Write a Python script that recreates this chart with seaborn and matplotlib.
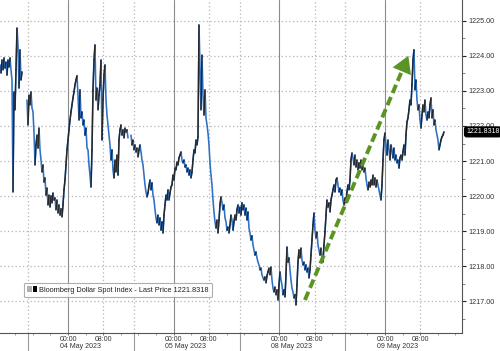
import numpy as np
import pandas as pd
import matplotlib
matplotlib.use("Agg")
import matplotlib.pyplot as plt
from matplotlib.patches import Rectangle
from matplotlib.legend_handler import HandlerTuple
import seaborn as sns

nan = float("nan")

# Bloomberg Dollar Spot Index, intraday bars (~13.6 minutes each).
# Horizontal axis = business-hours timeline: 0 h = 03 May 2023 00:00 (weekend collapsed)
FIRST_BAR_HOUR = 8.556
BAR_HOURS = 0.2271

may03 = [1223.74, 1223.51, 1223.88, 1223.60, 1223.94, 1223.65, 1223.82, 1223.45, 1223.88, 1223.68,
         1223.94, 1223.60, 1223.31, 1220.12, 1222.97, 1222.46, 1223.60, 1224.79, 1224.31, 1223.08,
         1224.17, 1223.31, 1223.54, nan, nan, nan, nan, 1222.74, 1222.03, 1222.88,
         1222.60, 1222.97, 1222.51, 1222.40, 1221.80, 1220.89, 1221.46, 1221.74, 1221.37, 1221.94,
         1221.32, 1221.03, 1220.69, 1220.89, 1220.40, 1220.52, 1220.03, 1220.23, 1219.75, 1220.03,
         1219.69, 1220.01, 1219.81, 1220.09, 1219.89, 1219.95, 1219.61, 1219.89, 1219.52, 1219.75,
         1219.46, 1219.64, 1219.41, 1219.75, 1220.18, 1220.46, 1220.89, 1221.32]
may04 = [1221.60, 1221.89,
         1222.17, 1222.40, 1222.60, 1222.80, 1222.97, 1223.17, 1223.31, 1223.43, 1222.88, 1222.17,
         1223.03, 1222.23, 1222.40, 1222.03, 1222.17, 1221.74, 1221.94, 1221.37, 1221.32, 1220.89,
         1220.60, 1220.26, 1221.32, 1223.03, 1223.88, 1224.31, 1222.74, 1223.08, 1222.46, 1222.88,
         1223.17, 1223.88, 1221.60, 1222.74, 1223.45, 1223.74, 1222.74, 1222.31, 1222.03, 1221.74,
         1221.46, 1221.03, 1221.32, 1220.75, 1220.52, 1221.03, 1220.69, 1221.17, 1220.60, 1221.60,
         1221.89, 1222.03, 1221.74, 1221.89, 1221.66, 1221.94, 1221.83, 1221.89, 1221.66, nan,
         nan, 1221.74, 1221.46, 1221.60, 1221.32, 1221.46, 1221.26, 1221.37, 1221.12, 1221.32,
         1221.46, 1221.26, 1221.03, 1220.89, 1220.60, 1220.32, 1220.12, 1219.98, 1220.09, 1220.29,
         1220.46, 1220.18, 1220.38, 1220.03, 1219.89, 1219.61, 1219.38, 1219.24, 1219.46, 1219.18,
         1219.38, 1219.03, 1219.27, 1218.95, 1219.46, 1219.75, 1220.03, 1219.89, 1220.18, 1219.89,
         1220.09, 1220.26, 1220.32, 1220.60]
may05 = [1220.46, 1220.80, 1220.75, 1220.97, 1220.89, 1221.09,
         1221.17, 1221.26, 1221.03, 1220.95, 1221.03, 1220.83, 1220.89, 1220.69, 1220.80, 1220.60,
         1220.75, 1220.52, 1220.69, 1221.03, 1221.32, 1221.23, 1221.60, 1221.46, 1221.69, 1224.88,
         1223.60, 1222.46, 1224.02, 1222.88, 1222.31, 1223.03, 1222.23, 1222.03, 1221.80, 1221.46,
         1220.95, 1220.60, 1220.32, 1219.89, 1219.55, 1219.27, 1219.09, 1219.32, 1218.95, 1219.32,
         1219.75, 1219.98, 1219.81, 1219.61, 1219.75, 1219.38, 1219.27, 1219.03, 1219.12, 1218.95,
         1219.18, 1219.46, 1219.32, 1219.03, 1219.27, 1219.46, 1219.32, 1219.61, 1219.75, 1219.52,
         1219.69, 1219.46, 1219.81, 1219.61, 1219.75, 1219.46, 1219.66, 1219.32, 1219.55, 1219.09,
         1218.95, 1218.75, 1218.87, 1218.61, 1218.47, 1218.32, 1218.41, 1218.24, 1218.12, 1218.04,
         1217.90, 1217.95, 1217.76, 1217.67, 1217.61, 1217.70, 1217.53, 1217.73, 1217.84, 1217.95,
         1217.76, 1217.98, 1217.61, 1217.38, 1217.27, 1217.41, 1217.19, 1217.33, 1217.04, 1217.47]
may08 = [1217.84, 1217.61, 1217.47, 1217.19, 1217.33, 1217.13, 1217.76, 1218.55, 1218.12, 1218.24,
         1217.90, 1217.61, 1217.38, 1217.27, 1217.10, 1217.19, 1216.90, 1217.47, 1218.12, 1218.47,
         1218.24, 1218.52, 1218.18, 1218.04, 1218.12, 1217.90, 1218.04, 1217.84, 1217.95, 1217.67,
         1217.90, 1218.32, 1218.75, 1219.18, 1219.52, 1219.03, 1218.81, 1218.98, 1218.61, 1218.47,
         1218.32, 1218.52, 1218.24, 1218.12, 1218.61, 1218.98, 1219.46, 1219.89, 1219.69, 1219.81,
         1219.55, 1219.89, 1220.03, 1220.18, 1220.32, 1220.12, 1220.46, 1220.52, 1220.32, 1220.12,
         1220.23, 1220.03, 1220.18, 1219.89, 1219.75, 1219.95, 1219.81, 1220.12, 1220.32, 1220.18,
         1220.46, 1221.03, 1221.23, 1221.09, 1220.89, 1221.17, 1220.83, 1221.03, 1220.75, 1220.95,
         1220.80, 1221.03, 1220.75, 1220.89, 1220.69, 1220.80, 1220.52, 1220.32, 1220.18, 1220.40,
         1220.26, 1220.46, 1220.32, 1220.60, 1220.32, 1220.52, 1220.26, 1220.46, 1220.32, 1220.18,
         1220.03, 1219.89, 1220.32, 1221.03, 1221.60, 1221.80]
may09 = [1221.46, 1221.17, 1221.60, 1221.32,
         1221.03, 1221.46, 1221.32, 1221.09, 1221.37, 1221.03, 1221.17, 1220.95, 1221.03, 1220.80,
         1221.09, 1221.17, 1221.03, 1221.26, 1221.46, 1221.17, 1221.74, 1222.11, 1222.23, 1222.46,
         1222.74, 1222.60, 1223.17, 1223.88, 1224.17, 1223.03, 1223.31, 1222.74, 1222.46, 1222.60,
         1222.17, 1221.94, 1222.31, 1222.60, 1222.40, 1222.74, 1222.31, 1222.17, 1222.40, 1222.23,
         1222.60, 1222.80, 1222.23, 1222.46, 1222.03, 1222.17, 1221.89, 1221.74, 1221.60, 1221.32,
         1221.46, 1221.60, 1221.69, 1221.74, 1221.8318]

LAST_PRICE = 1221.8318
SERIES_NAME = "Bloomberg Dollar Spot Index - Last Price"

day_start_hours = [24, 48, 72, 96]
day_labels = ["04 May 2023", "05 May 2023", "08 May 2023", "09 May 2023"]
session_break_hours = [15, 39, 63, 87]
price_ticks = [1217, 1218, 1219, 1220, 1221, 1222, 1223, 1224, 1225]

trend_start = (77.8, 1217.04)
trend_end = (101.3, 1224.0)

BLUE = "#2d70c4"
DARK = "#262626"
GREEN = "#5c9424"
GRID = "#b4b4b4"

# ---------------------------------------------------------------- data frame
prices = np.array(may03 + may04 + may05 + may08 + may09, dtype=float)
hours = FIRST_BAR_HOUR + BAR_HOURS * np.arange(len(prices))
valid = ~np.isnan(prices)
run_id = np.cumsum(~valid)  # new run after each gap
df = pd.DataFrame({"t": hours, "price": prices, "run": run_id})[valid]

rows = []
for i in range(len(prices) - 1):
    a, b = prices[i], prices[i + 1]
    if not np.isnan(a) and not np.isnan(b) and b > a:
        rows.append((hours[i], a, i))
        rows.append((hours[i + 1], b, i))
df_up = pd.DataFrame(rows, columns=["t", "price", "seg"])

# ---------------------------------------------------------------- figure
sns.set_style("white")
plt.rcParams["font.family"] = ["Liberation Sans", "DejaVu Sans"]

fig = plt.figure(figsize=(5.0, 3.51), dpi=100)
ax = fig.add_axes([0.0, 18 / 351, 462 / 500, 333 / 351])

ax.set_xlim(8.556, 113.48)
ax.set_ylim(1216.10, 1225.59)

for p in price_ticks:
    ax.axhline(p, color=GRID, lw=0.9, ls=(0, (1, 2)), zorder=0)
for d in day_start_hours:
    ax.axvline(d, color="#8c8c8c", lw=0.8, zorder=0)
    ax.axvline(d + 8, color=GRID, lw=0.9, ls=(0, (1, 2)), zorder=0)
for s in session_break_hours:
    ax.axvline(s, color=GRID, lw=0.9, ls=(0, (1, 2)), zorder=0)

sns.lineplot(data=df, x="t", y="price", units="run", estimator=None, sort=False,
             color=BLUE, lw=1.15, ax=ax, zorder=3)
sns.lineplot(data=df_up, x="t", y="price", units="seg", estimator=None, sort=False,
             color=DARK, lw=1.0, ax=ax, zorder=4)

# trend arrow
sx, sy = trend_start
ex, ey = trend_end
ax.plot([sx, sx + 0.93 * (ex - sx)], [sy, sy + 0.93 * (ey - sy)],
        color=GREEN, lw=2.8, ls=(0, (2.3, 1.1)), solid_capstyle="butt",
        dash_capstyle="butt", zorder=5)
ax.annotate("", xy=(ex, ey), xytext=(sx + 0.94 * (ex - sx), sy + 0.94 * (ey - sy)),
            arrowprops=dict(arrowstyle="-|>,head_length=1.1,head_width=0.65",
                            mutation_scale=11, color=GREEN, lw=0,
                            shrinkA=0, shrinkB=0), zorder=6)

# axes styling
ax.set_xlabel("")
ax.set_ylabel("")
for side in ["left", "top"]:
    ax.spines[side].set_visible(False)
for side in ["right", "bottom"]:
    ax.spines[side].set_color("#555555")
    ax.spines[side].set_linewidth(0.8)

ax.yaxis.tick_right()
ax.set_yticks(price_ticks)
ax.set_yticklabels([f"{p:.2f}" for p in price_ticks])
ax.set_yticks([p + 0.5 for p in price_ticks[:-1]] + [1216.5], minor=True)
ax.tick_params(axis="y", which="major", right=True, left=False, length=3, width=0.8,
               color="#222222", labelsize=5.2, labelcolor="#333333", pad=1.5)
ax.tick_params(axis="y", which="minor", right=True, left=False, length=2, width=0.5,
               color="#555555")

xt = []
xl = []
for d in day_start_hours:
    xt += [d, d + 8]
    xl += ["00:00", "08:00"]
ax.set_xticks(xt)
ax.set_xticklabels(xl)
ax.set_xticks(np.arange(12, 113, 4), minor=True)
ax.tick_params(axis="x", which="major", bottom=True, length=1.5, width=0.6,
               color="#555555", labelsize=5.0, labelcolor="#333333", pad=0.6)
ax.tick_params(axis="x", which="minor", bottom=True, length=1.2, width=0.5,
               color="#777777")

xtrans = ax.get_xaxis_transform()
for d, lab in zip(day_start_hours, day_labels):
    ax.annotate(lab, xy=(d, 0), xycoords=xtrans, xytext=(-8.5, -10.5),
                textcoords="offset pixels", ha="left", va="top", fontsize=5.0,
                color="#333333", annotation_clip=False)
ax.vlines(session_break_hours, -0.06, 0, transform=xtrans, colors="#9a9a9a",
          lw=0.8, clip_on=False)

# last price tag
ax.annotate(f"{LAST_PRICE:.4f}", xy=(1, LAST_PRICE), xycoords=ax.get_yaxis_transform(),
            xytext=(4, 0), textcoords="offset pixels", ha="left", va="center",
            fontsize=5.0, color="white", annotation_clip=False, zorder=10,
            bbox=dict(boxstyle="round,pad=0.2,rounding_size=0.3", fc="black", ec="black"))

# legend
h = (Rectangle((0, 0), 1, 1, fc="#b0b0b0", ec="none"),
     Rectangle((0, 0), 1, 1, fc="black", ec="none"))
leg = ax.legend([h], [f"{SERIES_NAME} {LAST_PRICE:.4f}"],
                handler_map={tuple: HandlerTuple(ndivide=None, pad=0.15)},
                loc="lower left", bbox_to_anchor=(24 / 462, 36 / 333), borderaxespad=0,
                frameon=True, fancybox=True, fontsize=5.3, handlelength=1.3,
                handleheight=0.9, borderpad=0.45, handletextpad=0.35)
leg.get_frame().set_edgecolor("#9a9a9a")
leg.get_frame().set_linewidth(0.8)
for t in leg.get_texts():
    t.set_color("#222222")

fig.savefig("out.png", dpi=100, facecolor="white")
